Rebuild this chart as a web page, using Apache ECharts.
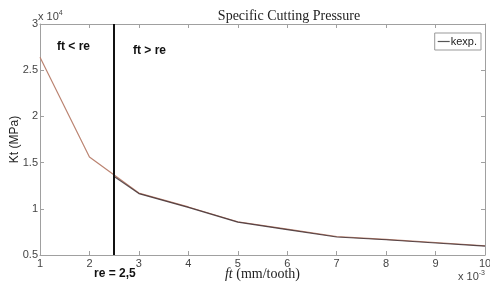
<!DOCTYPE html>
<html>
<head>
<meta charset="utf-8">
<script src="https://cdn.jsdelivr.net/npm/echarts@6/dist/echarts.min.js"></script>
<style>
  html, body { margin: 0; padding: 0; background: #fff; }
  #chart { width: 490px; height: 283px; }
</style>
</head>
<body>
<div id="chart"></div>
<script>
// feed per tooth (x 10^-3 mm/tooth)
var feed = [1, 2, 3, 4, 5, 6, 7, 8, 9, 10];
// Kt reference curve (x 10^4 MPa)
var ktModel = [2.64, 1.56, 1.17, 1.02, 0.86, 0.78, 0.70, 0.67, 0.635, 0.60];
// kexp. experimental curve, from re onwards
var feedExp = [2.5, 3, 4, 5, 6, 7, 8, 9, 10];
var ktExp = [1.35, 1.165, 1.015, 0.855, 0.775, 0.695, 0.665, 0.63, 0.595];
var reValue = 2.5;

var chart = echarts.init(document.getElementById('chart'));

var axisColor = '#a0a0a0';
var labelColor = '#444';

function pairs(xs, ys) {
    var out = [];
    for (var i = 0; i < xs.length; i++) out.push([xs[i], ys[i]]);
    return out;
}

var option = {
    animation: false,
    title: {
        text: 'Specific Cutting Pressure',
        left: 284,
        top: 4,
        textAlign: 'center',
        textStyle: { fontFamily: 'Liberation Serif', fontSize: 14, fontWeight: 'normal', color: '#222' }
    },
    legend: {
        data: [{ name: 'kexp.', icon: 'path://M0,0 L10,0 L10,1 L0,1 Z' }],
        right: 9,
        top: 33,
        orient: 'vertical',
        itemWidth: 12,
        itemHeight: 2,
        itemGap: 0,
        padding: [3, 4, 3, 3],
        borderColor: '#999',
        borderWidth: 1,
        textStyle: { fontFamily: 'Liberation Sans', fontSize: 11, color: '#222', padding: [0, 0, 0, -4] }
    },
    grid: { left: 40, right: 5, top: 24, bottom: 28, outerBoundsMode: 'none', containLabel: false },
    xAxis: [{
        type: 'value',
        min: 1, max: 10, interval: 1,
        name: '{i|ft} (mm/tooth)',
        nameLocation: 'middle',
        nameGap: 12,
        nameMoveOverlap: false,
        nameTextStyle: {
            fontFamily: 'Liberation Serif', fontSize: 14, color: '#222',
            rich: { i: { fontFamily: 'Liberation Serif', fontStyle: 'italic', fontSize: 14, color: '#222' } }
        },
        axisLine: { onZero: false, lineStyle: { color: axisColor } },
        axisTick: { inside: true, length: 4, lineStyle: { color: axisColor } },
        axisLabel: { color: labelColor, fontFamily: 'Liberation Sans', fontSize: 11, margin: 3 },
        splitLine: { show: false }
    }, {
        type: 'value', position: 'top',
        min: 1, max: 10, interval: 1,
        axisLine: { show: true, onZero: false, lineStyle: { color: axisColor } },
        axisTick: { inside: true, length: 4, lineStyle: { color: axisColor } },
        axisLabel: { show: false },
        splitLine: { show: false }
    }],
    yAxis: [{
        type: 'value',
        min: 0.5, max: 3, interval: 0.5,
        name: 'Kt (MPa)',
        nameLocation: 'middle',
        nameGap: 19,
        nameMoveOverlap: false,
        nameTextStyle: { fontFamily: 'Liberation Sans', fontSize: 12, color: '#222' },
        axisLine: { show: true, onZero: false, lineStyle: { color: axisColor } },
        axisTick: { show: true, inside: true, length: 4, lineStyle: { color: axisColor } },
        axisLabel: { color: labelColor, fontFamily: 'Liberation Sans', fontSize: 11, margin: 2 },
        splitLine: { show: false }
    }, {
        type: 'value', position: 'right',
        min: 0.5, max: 3, interval: 0.5,
        axisLine: { show: true, onZero: false, lineStyle: { color: axisColor } },
        axisTick: { show: true, inside: true, length: 4, lineStyle: { color: axisColor } },
        axisLabel: { show: false },
        splitLine: { show: false }
    }],
    series: [{
        name: 'model',
        type: 'line',
        data: pairs(feed, ktModel),
        symbol: 'none',
        lineStyle: { color: '#bb8472', width: 1.2 },
        z: 2
    }, {
        name: 'kexp.',
        type: 'line',
        data: pairs(feedExp, ktExp),
        symbol: 'none',
        color: '#555',
        lineStyle: { color: '#3a2a30', width: 1.2, opacity: 0.8 },
        z: 3,
        markLine: {
            silent: true,
            symbol: 'none',
            label: { show: false },
            lineStyle: { color: '#111', width: 2, type: 'solid' },
            data: [{ xAxis: reValue }]
        }
    }],
    graphic: [
        { type: 'text', left: 57, top: 41, style: { text: 'ft < re', font: 'bold 12px "Liberation Sans"', fill: '#111' } },
        { type: 'text', left: 133, top: 45, style: { text: 'ft > re', font: 'bold 12px "Liberation Sans"', fill: '#111' } },
        { type: 'text', left: 94, top: 268, style: { text: 're = 2,5', font: 'bold 12px "Liberation Sans"', fill: '#111' } },
        { type: 'text', left: 38, top: 10, style: { rich: { b: { fontSize: 11, fontFamily: 'Liberation Sans', fill: '#444' }, s: { fontSize: 7, fontFamily: 'Liberation Sans', fill: '#444', padding: [0, 0, 6, 0] } }, text: '{b|x 10}{s|4}' } },
        { type: 'text', left: 458, top: 270, style: { rich: { b: { fontSize: 11, fontFamily: 'Liberation Sans', fill: '#444' }, s: { fontSize: 7, fontFamily: 'Liberation Sans', fill: '#444', padding: [0, 0, 6, 0] } }, text: '{b|x 10}{s|-3}' } }
    ]
};

chart.setOption(option);
</script>
</body>
</html>
